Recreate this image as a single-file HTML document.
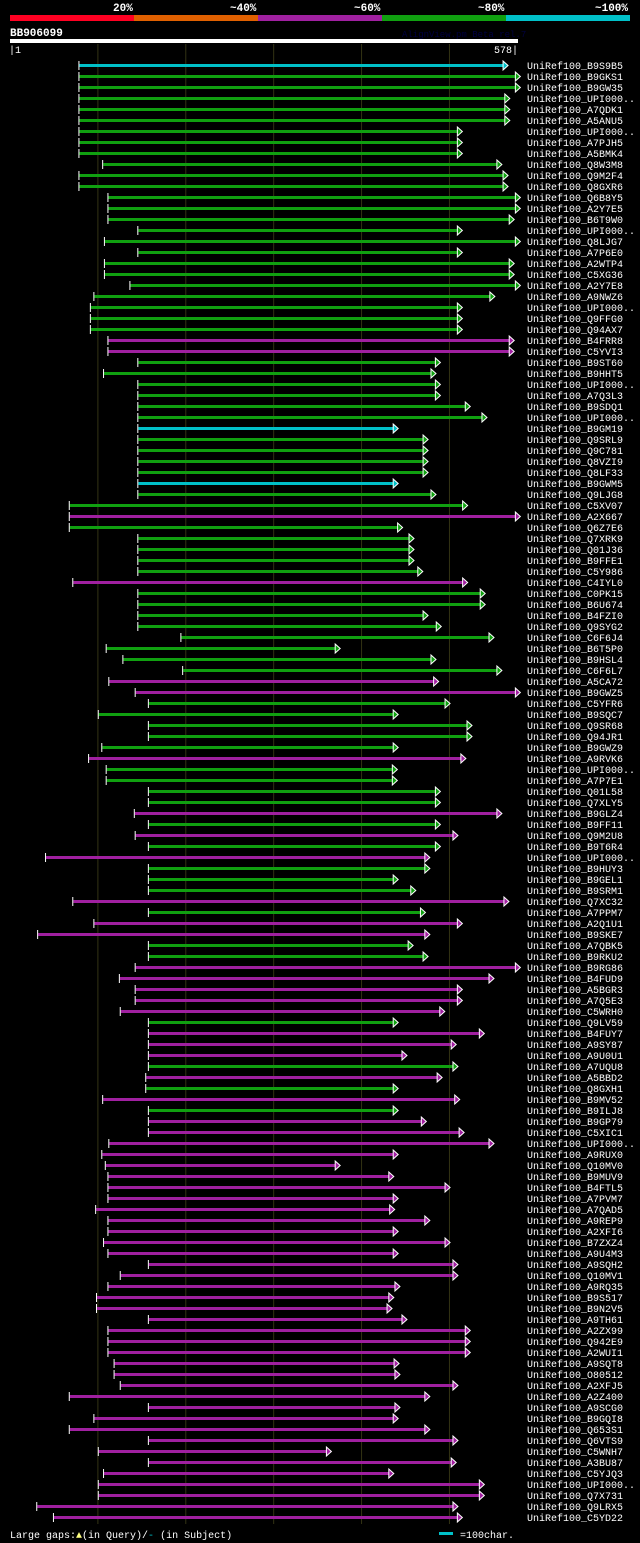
<!DOCTYPE html>
<html><head><meta charset="utf-8">
<style>
html,body{margin:0;padding:0;background:#000;}
body{width:640px;height:1543px;overflow:hidden;position:relative;font-family:"Liberation Mono",monospace;}
svg{position:absolute;left:0;top:0;}
</style></head>
<body>
<svg id="chart" width="640" height="1543">
<g>
<text x="113" y="11" fill="#fff" font-size="11" font-weight="bold" font-family="Liberation Mono, monospace">20%</text>
<text x="230" y="11" fill="#fff" font-size="11" font-weight="bold" font-family="Liberation Mono, monospace">~40%</text>
<text x="354" y="11" fill="#fff" font-size="11" font-weight="bold" font-family="Liberation Mono, monospace">~60%</text>
<text x="478" y="11" fill="#fff" font-size="11" font-weight="bold" font-family="Liberation Mono, monospace">~80%</text>
<text x="595" y="11" fill="#fff" font-size="11" font-weight="bold" font-family="Liberation Mono, monospace">~100%</text>
<rect x="10" y="15" width="124" height="6" fill="#ff0022"/>
<rect x="134" y="15" width="124" height="6" fill="#e06000"/>
<rect x="258" y="15" width="124" height="6" fill="#a020a0"/>
<rect x="382" y="15" width="124" height="6" fill="#10a010"/>
<rect x="506" y="15" width="124" height="6" fill="#00c0c8"/>
</g>
<text x="10" y="36" fill="#fff" font-size="11" font-weight="bold" font-family="Liberation Mono, monospace">BB906099</text>
<text x="402" y="37" fill="#000040" font-size="9" font-family="Liberation Mono, monospace">AlignView.pm Beta rel.7</text>
<rect x="10" y="39" width="508" height="4" fill="#fff"/>
<text x="9" y="53" fill="#fff" font-size="10" font-family="Liberation Mono, monospace">|1</text>
<text x="518" y="53" fill="#fff" font-size="10" text-anchor="end" font-family="Liberation Mono, monospace">578|</text>
<g id="grid"></g>
<g id="rows"></g>
<g>
<text x="10" y="1538" fill="#fff" font-size="10" font-family="Liberation Mono, monospace">Large gaps:<tspan fill="#ffff80">▲</tspan>(in Query)/<tspan fill="#00c0c8">-</tspan> (in Subject)</text>
<rect x="439" y="1532" width="14" height="3" fill="#00c0c8"/>
<text x="460" y="1538" fill="#fff" font-size="10" font-family="Liberation Mono, monospace">=100char.</text>
</g>
</svg>
<script>
const queryLength = 578;
const gridTicks = [100, 200, 300, 400, 500];
const names = ["B9S9B5","B9GKS1","B9GW35","UPI000..","A7QDK1","A5ANU5","UPI000..","A7PJH5","A5BMK4","Q8W3M8","Q9M2F4","Q8GXR6","Q6B8Y5","A2Y7E5","B6T9W0","UPI000..","Q8LJG7","A7P6E0","A2WTP4","C5XG36","A2Y7E8","A9NWZ6","UPI000..","Q9FFG0","Q94AX7","B4FRR8","C5YVI3","B9ST60","B9HHT5","UPI000..","A7Q3L3","B9SDQ1","UPI000..","B9GM19","Q9SRL9","Q9C781","Q8VZI9","Q8LF33","B9GWM5","Q9LJG8","C5XV07","A2X667","Q6Z7E6","Q7XRK9","Q01J36","B9FFE1","C5Y986","C4IYL0","C0PK15","B6U674","B4FZI0","Q9SYG2","C6F6J4","B6T5P0","B9HSL4","C6F6L7","A5CA72","B9GWZ5","C5YFR6","B9SQC7","Q9SR68","Q94JR1","B9GWZ9","A9RVK6","UPI000..","A7P7E1","Q01L58","Q7XLY5","B9GLZ4","B9FF11","Q9M2U8","B9T6R4","UPI000..","B9HUY3","B9GEL1","B9SRM1","Q7XC32","A7PPM7","A2Q1U1","B9SKE7","A7QBK5","B9RKU2","B9RG86","B4FUD9","A5BGR3","A7Q5E3","C5WRH0","Q9LV59","B4FUY7","A9SY87","A9U0U1","A7UQU8","A5BBD2","Q8GXH1","B9MV52","B9ILJ8","B9GP79","C5XIC1","UPI000..","A9RUX0","Q10MV0","B9MUV9","B4FTL5","A7PVM7","A7QAD5","A9REP9","A2XFI6","B7ZXZ4","A9U4M3","A9SQH2","Q10MV1","A9RQ35","B9S517","B9N2V5","A9TH61","A2ZX99","Q942E9","A2WUI1","A9SQT8","O80512","A2XFJ5","A2Z400","A9SCG0","B9GQI8","Q653S1","Q6VTS9","C5WNH7","A3BU87","C5YJQ3","UPI000..","Q7X731","Q9LRX5","C5YD22"];
const starts = [79,79,79,79,79,79,79,79,79,106,79,79,112,112,112,146,108,146,108,108,137,96,92,92,92,112,112,146,107,146,146,146,146,146,146,146,146,146,146,146,68,68,68,146,146,146,146,72,146,146,146,146,195,110,129,197,113,143,158,101,158,158,105,90,110,110,158,158,142,158,143,158,41,158,158,158,72,158,96,32,158,158,143,125,143,143,126,158,158,158,158,158,155,155,106,158,158,158,113,105,109,112,112,112,98,112,112,107,112,158,126,112,99,99,158,112,112,112,119,119,126,68,158,96,68,158,101,158,107,101,101,31,50];
const ends = [561,575,575,563,563,563,509,509,509,554,561,561,575,575,568,509,575,509,568,568,575,546,509,509,509,568,568,484,479,484,484,518,537,436,470,470,470,470,436,479,515,575,441,454,454,454,464,515,535,535,470,485,545,370,479,554,482,575,495,436,520,520,436,513,435,435,484,484,554,484,504,484,472,472,436,456,562,467,509,472,453,470,575,545,509,509,489,436,534,502,446,504,486,436,506,436,468,511,545,436,370,431,495,436,432,472,436,495,436,504,504,438,431,429,446,518,518,518,437,438,504,472,438,436,472,504,360,502,431,534,534,504,509];
const identityClass = ("c" + "gggggggggggggggggggggggg" + "mm" + "gggggg" + "c" + "gggg" + "c" + "gg" + "m" + "ggggg" + "m" + "gggggggg" + "mm" + "ggggg" + "m" + "gggg" + "m" + "g" + "m" + "g" + "m" + "ggg" + "m" + "g" + "mm" + "gg" + "mmmmm" + "g" + "mmm" + "g" + "m" + "g" + "m" + "g" + "mmmmmmmmmmmmmmmmmmmmmmmmmmmmmmmmmmmmm").split("");
const palette = {c:"#00c0c8", g:"#10a010", m:"#a020a0"};
const x = p => 10 + p * 508 / queryLength;
const rowY = i => 65 + i * 11;
const NS = "http://www.w3.org/2000/svg";
const grid = document.getElementById("grid");
gridTicks.forEach(t => {
  const l = document.createElementNS(NS, "line");
  l.setAttribute("x1", x(t)); l.setAttribute("x2", x(t));
  l.setAttribute("y1", 44); l.setAttribute("y2", 1524);
  l.setAttribute("stroke", "#333314"); l.setAttribute("stroke-width", 1);
  
  
  grid.appendChild(l);
});
const rows = document.getElementById("rows");
names.forEach((n, i) => {
  const y = rowY(i);
  const col = palette[identityClass[i]] || palette.m;
  const g = document.createElementNS(NS, "g");
  
  
  const x0 = x(starts[i]), x1 = x(ends[i]);
  const bar = document.createElementNS(NS, "rect");
  bar.setAttribute("x", x0); bar.setAttribute("y", y - 1);
  bar.setAttribute("width", x1 - x0); bar.setAttribute("height", 3);
  bar.setAttribute("fill", col);
  
  
  g.appendChild(bar);
  const tick = document.createElementNS(NS, "rect");
  tick.setAttribute("x", x0 - 1); tick.setAttribute("y", y - 4);
  tick.setAttribute("width", 1); tick.setAttribute("height", 9);
  tick.setAttribute("fill", "#fff");
  
  
  g.appendChild(tick);
  const arr = document.createElementNS(NS, "polygon");
  arr.setAttribute("points", `${x1},${y-4} ${x1+5},${y+0.5} ${x1},${y+5}`);
  arr.setAttribute("fill", col); arr.setAttribute("stroke", "#fff"); arr.setAttribute("stroke-width", 1);
  
  
  g.appendChild(arr);
  const t = document.createElementNS(NS, "text");
  t.setAttribute("x", 527); t.setAttribute("y", y + 4);
  t.setAttribute("fill", "#fff"); t.setAttribute("font-size", 10);
  t.setAttribute("font-family", "Liberation Mono, monospace");
  t.textContent = "UniRef100_" + n;
  
  
  g.appendChild(t);
  rows.appendChild(g);
});
</script>
</body></html>
